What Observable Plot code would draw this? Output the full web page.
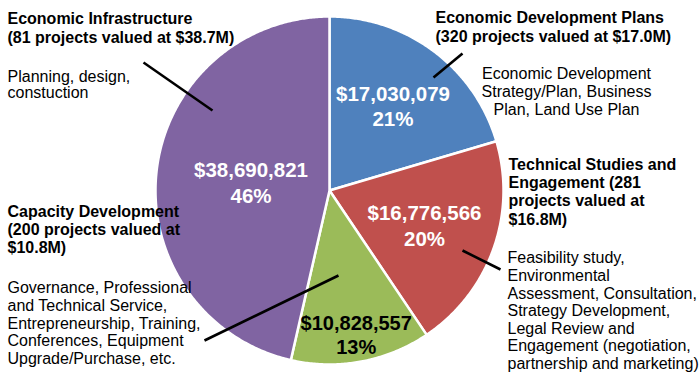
<!DOCTYPE html>
<html><head><meta charset="utf-8">
<script src="https://cdn.jsdelivr.net/npm/d3@7"></script>
<script src="https://cdn.jsdelivr.net/npm/@observablehq/plot@0.6"></script>
<style>body{margin:0;background:#fff} #chart svg{display:block}</style>
</head><body><div id="chart"></div>
<script>
// ---- data ----
const categories = ["Economic Development Plans", "Technical Studies and Engagement", "Capacity Development", "Economic Infrastructure"];
const values = [17030079, 16776566, 10828557, 38690821];
const percents = [21, 20, 13, 46];
const projectCounts = [320, 281, 200, 81];
const valueShort = ["$17.0M", "$16.8M", "$10.8M", "$38.7M"];
const descriptions = [
  "Economic Development\nStrategy/Plan, Business\nPlan, Land Use Plan",
  "Feasibility study,\nEnvironmental\nAssessment, Consultation,\nStrategy Development,\nLegal Review and\nEngagement (negotiation,\npartnership and marketing)",
  "Governance, Professional\nand Technical Service,\nEntrepreneurship, Training,\nConferences, Equipment\nUpgrade/Purchase, etc.",
  "Planning, design,\nconstuction"
];
const titles = [
  "Economic Development Plans\n(320 projects valued at $17.0M)",
  "Technical Studies and\nEngagement (281\nprojects valued at\n$16.8M)",
  "Capacity Development\n(200 projects valued at\n$10.8M)",
  "Economic Infrastructure\n(81 projects valued at $38.7M)"
];

// ---- styling / layout ----
const colors = ["#4F81BD", "#C0504D", "#9BBB59", "#8064A2"];
const W = 700, H = 373;
const cx = 329, cy = 190, R = 174;
const labelRadius = [106, 101, 146, 79];
const labelDark = [false, false, true, false];
const FONT = "'Liberation Sans', Arial, Helvetica, sans-serif";

const titleLayout = [
  {x: 435, y: 25.5, anchor: "start", lh: 1.19},
  {x: 508, y: 190.8, anchor: "start", lh: 1.145},
  {x: 7, y: 229, anchor: "start", lh: 1.125},
  {x: 7, y: 26.5, anchor: "start", lh: 1.19}
];
const descLayout = [
  {x: 566, y: 91, anchor: "middle", lh: 1.125},
  {x: 507, y: 310, anchor: "start", lh: 1.104},
  {x: 7, y: 322.5, anchor: "start", lh: 1.109},
  {x: 7, y: 84, anchor: "start", lh: 1.02}
];
const leaderLayout = [
  {x1: 433, y1: 77, x2: 462, y2: 53},
  {x1: 462, y1: 250, x2: 500, y2: 269},
  {x1: 338, y1: 275, x2: 204, y2: 340},
  {x1: 212, y1: 110, x2: 143, y2: 62}
];

// ---- build ----
const rows = categories.map((c, i) => ({cat: c, value: values[i], pct: percents[i], i}));
const arcs = d3.pie().sort(null).value(d => d.value)(rows);

const polyPts = [];
arcs.forEach(a => {
  const cat = a.data.cat;
  polyPts.push({cat, x: cx, y: cy});
  const n = Math.max(2, Math.ceil((a.endAngle - a.startAngle) / (Math.PI / 360)));
  for (let k = 0; k <= n; k++) {
    const t = a.startAngle + (a.endAngle - a.startAngle) * k / n;
    polyPts.push({cat, x: cx + R * Math.sin(t), y: cy - R * Math.cos(t)});
  }
  polyPts.push({cat, x: cx, y: cy});
});

const fmt = d3.format("$,");
const labels = arcs.map(a => {
  const i = a.data.i;
  const m = (a.startAngle + a.endAngle) / 2;
  return {
    x: cx + labelRadius[i] * Math.sin(m),
    y: cy - labelRadius[i] * Math.cos(m),
    text: fmt(a.data.value) + "\n" + a.data.pct + "%",
    dark: labelDark[i]
  };
});

const titleRows = titles.map((t, i) => ({text: t, ...titleLayout[i]}));
const descRows = descriptions.map((t, i) => ({text: t, ...descLayout[i]}));

function textMarks(data, bold) {
  const groups = d3.groups(data, d => d.anchor + "|" + d.lh);
  return groups.map(([k, g]) => Plot.text(g, {
    x: "x", y: "y", text: "text",
    textAnchor: g[0].anchor, lineAnchor: "middle", lineHeight: g[0].lh,
    fontSize: 16, fontWeight: bold ? "bold" : "normal", fill: "black",
    fontFamily: FONT
  }));
}

const chart = Plot.plot({
  width: W, height: H,
  margin: 0,
  x: {domain: [0, W], range: [0, W], axis: null},
  y: {domain: [0, H], range: [0, H], axis: null},
  color: {domain: categories, range: colors},
  style: {fontFamily: FONT, background: "white"},
  marks: [
    Plot.line(polyPts, {x: "x", y: "y", z: "cat", fill: "cat", stroke: "white", strokeWidth: 2.5, strokeLinejoin: "round"}),
    Plot.text(labels.filter(d => !d.dark), {x: "x", y: "y", text: "text", fill: "white", fontSize: 20.5, fontWeight: "bold", lineAnchor: "middle", lineHeight: 1.24, fontFamily: FONT}),
    Plot.text(labels.filter(d => d.dark), {x: "x", y: "y", text: "text", fill: "black", fontSize: 20, fontWeight: "bold", lineAnchor: "middle", lineHeight: 1.2, fontFamily: FONT}),
    ...textMarks(titleRows, true),
    ...textMarks(descRows, false),
    Plot.link(leaderLayout, {x1: "x1", y1: "y1", x2: "x2", y2: "y2", stroke: "black", strokeWidth: 2.6})
  ]
});
document.getElementById("chart").appendChild(chart);
</script>
</body></html>
